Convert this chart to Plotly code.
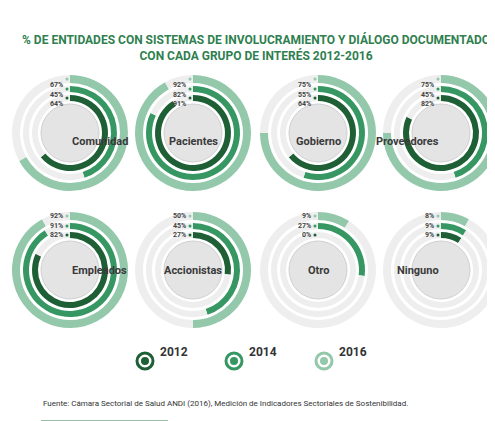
import plotly.graph_objects as go

categories = ["Comunidad", "Pacientes", "Gobierno", "Proveedores",
              "Empleados", "Accionistas", "Otro", "Ninguno"]
v2012 = [64, 91, 64, 82, 82, 27, 0, 9]
v2014 = [45, 82, 55, 45, 91, 45, 27, 9]
v2016 = [67, 92, 75, 75, 92, 50, 9, 8]
years = ["2012", "2014", "2016"]
colors = {"2012": "#1f5f35", "2014": "#369763", "2016": "#93c8aa"}

W, H = 495, 421
FONT = "Liberation Sans Narrow, Roboto, Arial"
centers = [(62, 125), (185, 125), (310, 125), (433, 125),
           (62, 262), (185, 262), (310, 262), (433, 262)]
rings = [("2016", 58, 50), ("2014", 47, 41), ("2012", 38, 32)]

fig = go.Figure()
shapes, ann = [], []

def px(x): return x / W
def py(y): return 1 - y / H

for i, cat in enumerate(categories):
    cx, cy = centers[i]
    vals = {"2012": v2012[i], "2014": v2014[i], "2016": v2016[i]}
    for yr, ro, ri in rings:
        v = vals[yr]
        fig.add_trace(go.Pie(
            values=[v, 100 - v], sort=False, direction="clockwise", rotation=0,
            hole=ri / ro, marker=dict(colors=[colors[yr], "#eeeeee"],
                                      line=dict(width=0)),
            textinfo="none", hoverinfo="skip", showlegend=False,
            domain=dict(x=[px(cx - ro), px(cx + ro)], y=[py(cy + ro), py(cy - ro)])))
    r = 29
    shapes.append(dict(type="circle", xref="paper", yref="paper",
                       x0=px(cx - r), x1=px(cx + r), y0=py(cy + r), y1=py(cy - r),
                       fillcolor="#e4e4e4", line=dict(color="#d0d0d0", width=1)))
    ann.append(dict(x=px(cx), y=py(cy), xref="paper", yref="paper", text=f"<b>{cat}</b>",
                    showarrow=False, font=dict(family=FONT, size=11, color="#3a3a3a")))
    for k, (yr, ro, ri) in enumerate(rings):
        yy = cy - (ro + ri) / 2
        ann.append(dict(x=px(cx - 5), y=py(yy), xref="paper", yref="paper",
                        text=f"<b>{vals[yr]}%</b>", showarrow=False, xanchor="right",
                        font=dict(family=FONT, size=7, color="#444")))
        shapes.append(dict(type="circle", xref="paper", yref="paper",
                           x0=px(cx - 4.5), x1=px(cx - 1.5), y0=py(yy + 1.5), y1=py(yy - 1.5),
                           fillcolor=colors[yr], line=dict(width=0)))

for yr, lx in zip(years, [137, 226, 316]):
    ly = 353
    shapes.append(dict(type="circle", xref="paper", yref="paper",
                       x0=px(lx - 8), x1=px(lx + 8), y0=py(ly + 8), y1=py(ly - 8),
                       fillcolor="white", line=dict(color=colors[yr], width=3)))
    shapes.append(dict(type="circle", xref="paper", yref="paper",
                       x0=px(lx - 4), x1=px(lx + 4), y0=py(ly + 4), y1=py(ly - 4),
                       fillcolor=colors[yr], line=dict(width=0)))
    ann.append(dict(x=px(lx + 13), y=py(ly), xref="paper", yref="paper", xanchor="left",
                    text=f"<b>{yr}</b>", showarrow=False,
                    font=dict(family=FONT, size=12, color="#333")))

ann.append(dict(x=0.5, y=py(22), xref="paper", yref="paper", showarrow=False,
                text="<b>% DE ENTIDADES CON SISTEMAS DE INVOLUCRAMIENTO Y DIÁLOGO DOCUMENTADO<br>CON CADA GRUPO DE INTERÉS 2012-2016</b>",
                font=dict(family=FONT, size=12, color="#2f7f4f")))
ann.append(dict(x=px(33), y=py(402), xref="paper", yref="paper", xanchor="left",
                showarrow=False,
                text="Fuente: Cámara Sectorial de Salud ANDI (2016), Medición de Indicadores Sectoriales de Sostenibilidad.",
                font=dict(family=FONT, size=8, color="#333")))
shapes.append(dict(type="line", xref="paper", yref="paper", x0=px(33), x1=px(160),
                   y0=py(413), y1=py(413), line=dict(color="#2f7f4f", width=1)))

fig.update_layout(width=W, height=H, margin=dict(l=0, r=0, t=0, b=0),
                  paper_bgcolor="white", plot_bgcolor="white",
                  shapes=shapes, annotations=ann)
fig.write_html("out.html")
